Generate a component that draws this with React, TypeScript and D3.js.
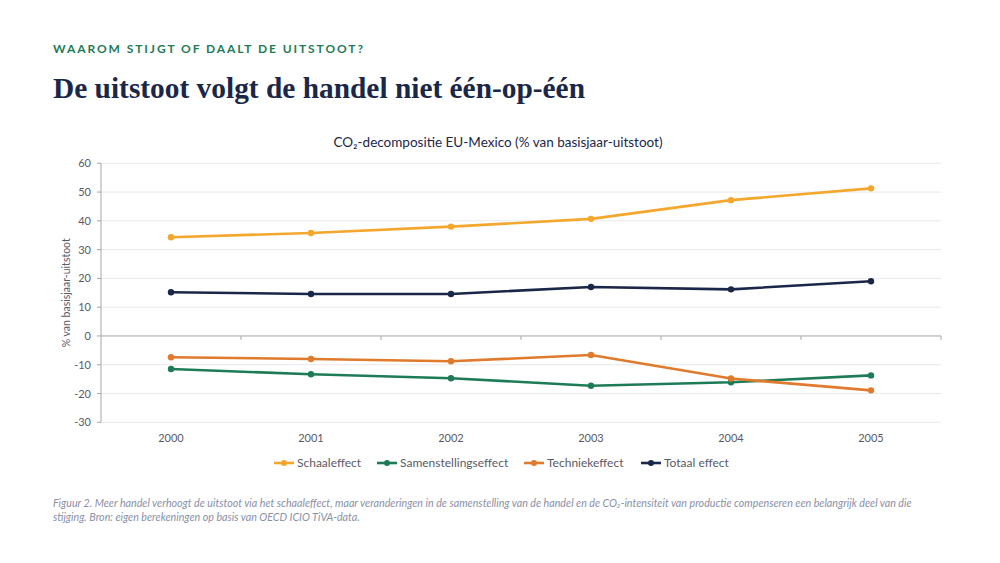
import React from "react";
import * as d3 from "d3";

const years = ["2000", "2001", "2002", "2003", "2004", "2005"];
const schaal = [34.3, 35.8, 38.0, 40.7, 47.2, 51.3];
const samenstelling = [-11.5, -13.3, -14.7, -17.3, -16.1, -13.7];
const techniek = [-7.4, -8.0, -8.8, -6.6, -14.8, -18.9];
const totaal = [15.2, 14.6, 14.6, 17.0, 16.2, 19.0];
const yTicks = [60, 50, 40, 30, 20, 10, 0, -10, -20, -30];

const series = [
  { name: "Schaaleffect", values: schaal, color: "#F4A72C", lx: 274 },
  { name: "Samenstellingseffect", values: samenstelling, color: "#1E7B57", lx: 377 },
  { name: "Techniekeffect", values: techniek, color: "#E07A2C", lx: 524 },
  { name: "Totaal effect", values: totaal, color: "#1B2748", lx: 641 },
];

export default function App() {
  const W = 1000, H = 563;
  const x0 = 101, x1 = 941, yTop = 163.3, yBot = 422.3;
  const x = d3.scaleBand<string>().domain(years).range([x0, x1]);
  const y = d3.scaleLinear().domain([-30, 60]).range([yBot, yTop]);
  const line = d3.line<number>().x((_, i) => (x(years[i]) as number) + x.bandwidth() / 2).y((v) => y(v));
  const font = "Lato, 'Open Sans', sans-serif";
  return (
    <svg width={W} height={H} style={{ position: "absolute", left: 0, top: 0, background: "#fff" }}>
      <text x={53} y={53} fontFamily={font} fontWeight={700} fontSize={12} fill="#1E7B57" textLength={310} lengthAdjust="spacing">
        WAAROM STIJGT OF DAALT DE UITSTOOT?
      </text>
      <text x={53} y={98} fontFamily="'Liberation Serif', serif" fontWeight={700} fontSize={29} fill="#1B2748" textLength={532} lengthAdjust="spacingAndGlyphs">
        De uitstoot volgt de handel niet één-op-één
      </text>
      <text x={498} y={147} textAnchor="middle" fontFamily={font} fontSize={13.5} fill="#1B2748">
        CO₂-decompositie EU-Mexico (% van basisjaar-uitstoot)
      </text>
      {yTicks.map((t) => (
        <g key={t}>
          {t !== 0 && <line x1={x0} x2={x1} y1={y(t)} y2={y(t)} stroke="#E9E9EF" strokeWidth={1} />}
          <line x1={x0 - 4} x2={x0} y1={y(t)} y2={y(t)} stroke="#A6A6A6" />
          <text x={x0 - 10} y={y(t) + 4} textAnchor="end" fontFamily={font} fontSize={11} fill="#5A5A66">
            {t}
          </text>
        </g>
      ))}
      <line x1={x0} x2={x0} y1={yTop} y2={yBot} stroke="#A6A6A6" />
      <line x1={x0} x2={x1} y1={y(0)} y2={y(0)} stroke="#A6A6A6" />
      {years.map((yr) => (
        <line key={"t" + yr} x1={(x(yr) as number) + x.bandwidth()} x2={(x(yr) as number) + x.bandwidth()} y1={y(0)} y2={y(0) + 4} stroke="#A6A6A6" />
      ))}
      {years.map((yr) => (
        <text key={yr} x={(x(yr) as number) + x.bandwidth() / 2} y={442} textAnchor="middle" fontFamily={font} fontSize={11} fill="#5A5A66">
          {yr}
        </text>
      ))}
      <text transform={`translate(70,${(yTop + yBot) / 2}) rotate(-90)`} textAnchor="middle" fontFamily={font} fontSize={10.5} fill="#5A5A66">
        % van basisjaar-uitstoot
      </text>
      {series.map((s) => (
        <g key={s.name}>
          <path d={line(s.values) || ""} fill="none" stroke={s.color} strokeWidth={2.6} strokeLinejoin="round" />
          {s.values.map((v, i) => (
            <circle key={i} cx={(x(years[i]) as number) + x.bandwidth() / 2} cy={y(v)} r={3.2} fill={s.color} />
          ))}
        </g>
      ))}
      {series.map((s) => (
        <g key={"l" + s.name}>
          <line x1={s.lx} x2={s.lx + 20} y1={463} y2={463} stroke={s.color} strokeWidth={2.6} />
          <circle cx={s.lx + 10} cy={463} r={3} fill={s.color} />
          <text x={s.lx + 23} y={467} fontFamily={font} fontSize={12} fill="#5A5A66">
            {s.name}
          </text>
        </g>
      ))}
      <text x={53} y={507} fontFamily={font} fontStyle="italic" fontSize={10.7} fill="#8A90A6">
        Figuur 2. Meer handel verhoogt de uitstoot via het schaaleffect, maar veranderingen in de samenstelling van de handel en de CO₂-intensiteit van productie compenseren een belangrijk deel van die
      </text>
      <text x={53} y={521} fontFamily={font} fontStyle="italic" fontSize={10.7} fill="#8A90A6">
        stijging. Bron: eigen berekeningen op basis van OECD ICIO TiVA-data.
      </text>
    </svg>
  );
}
